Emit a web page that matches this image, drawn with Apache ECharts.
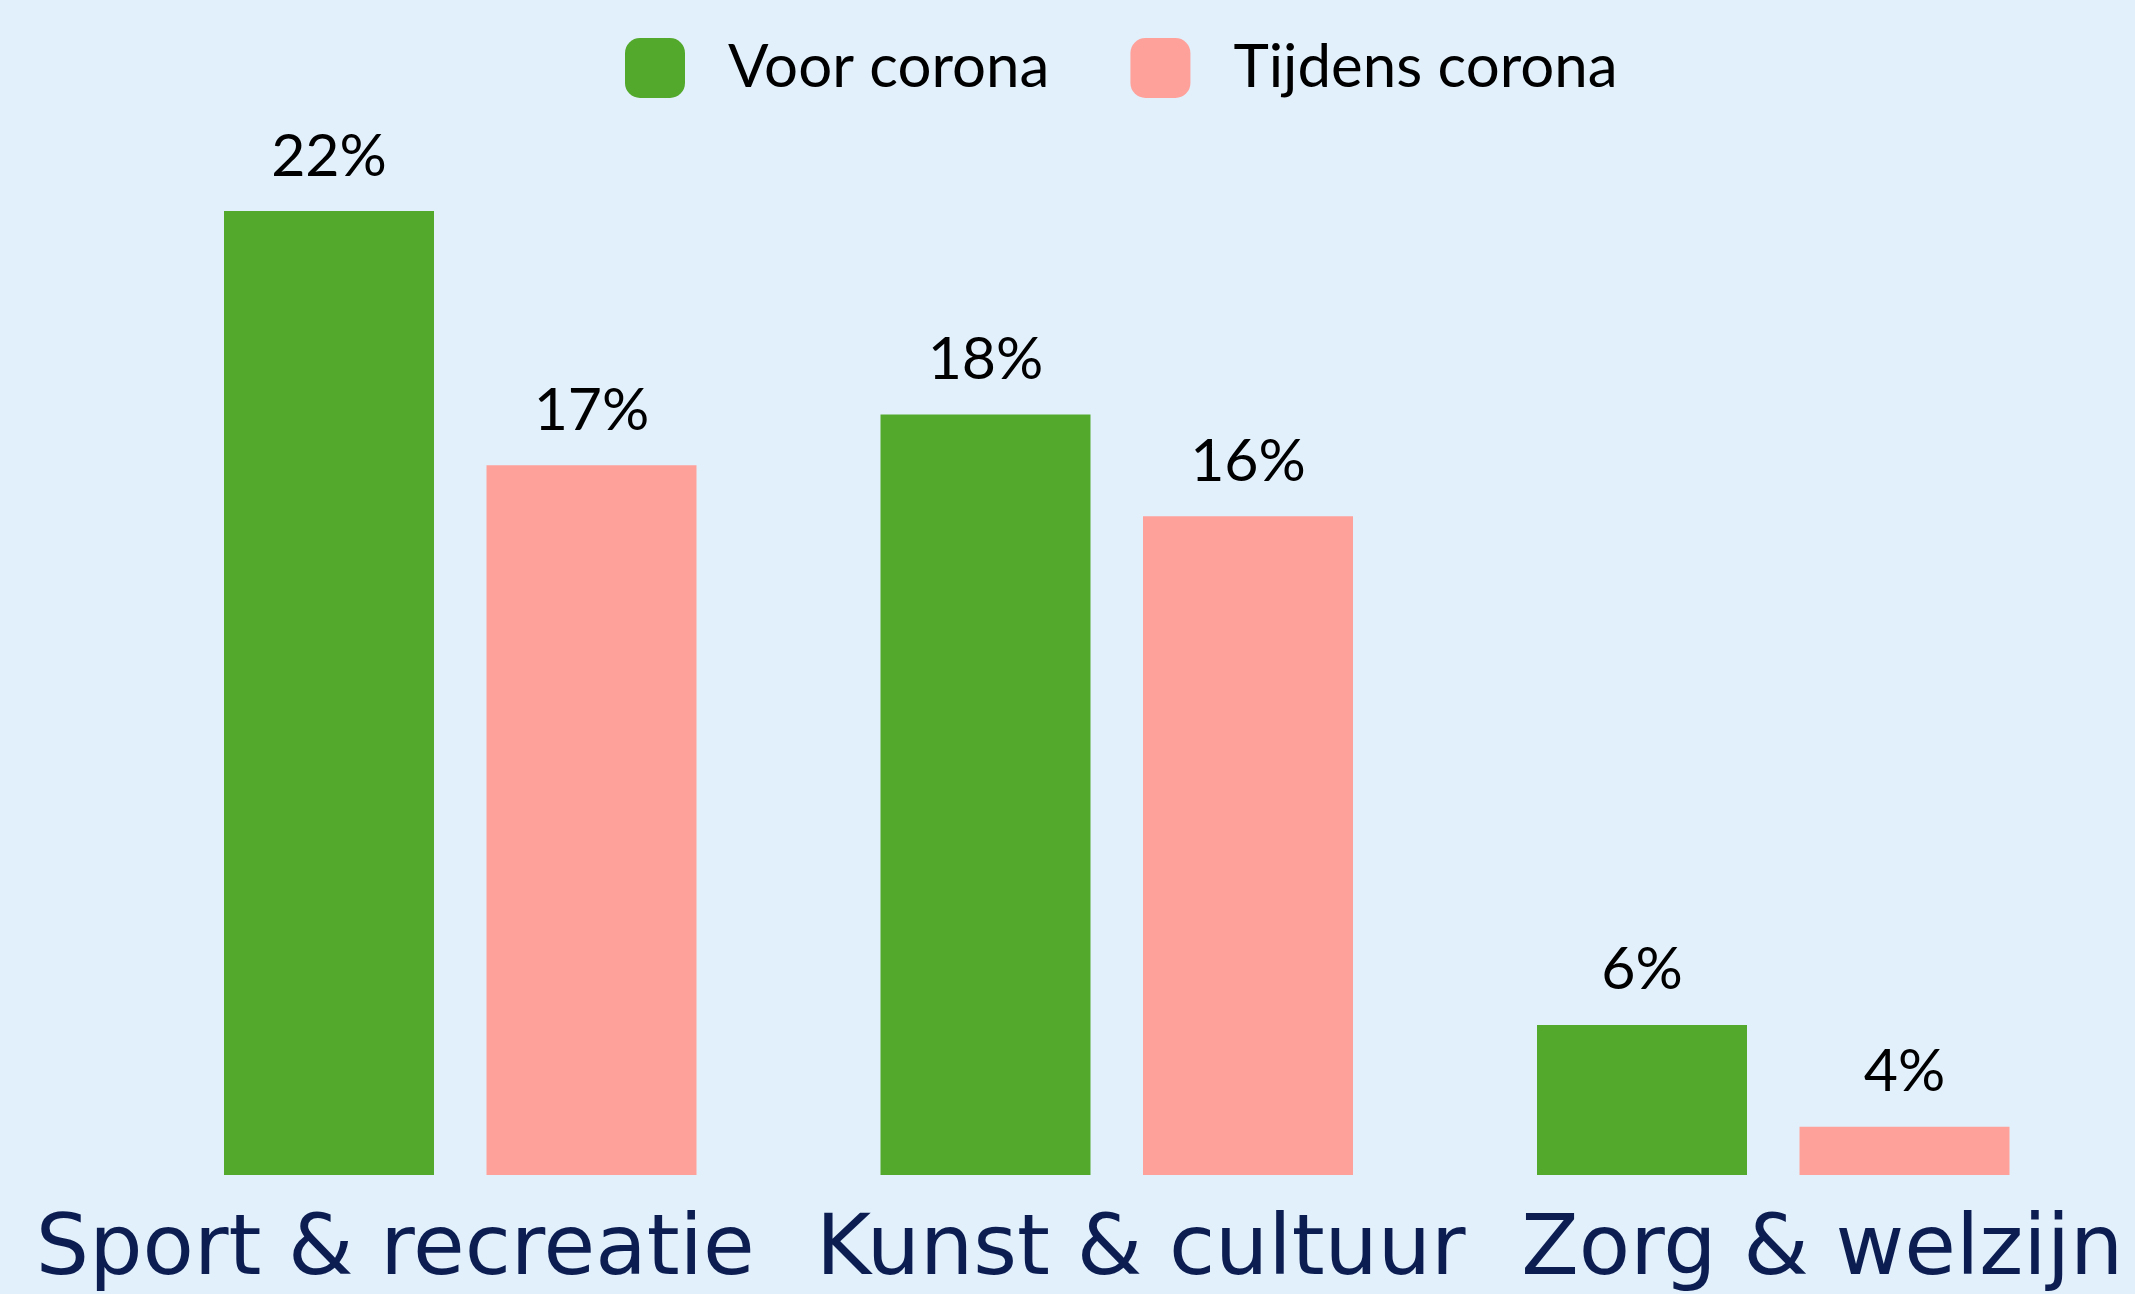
<!DOCTYPE html>
<html>
<head>
<meta charset="utf-8">
<script src="https://cdn.jsdelivr.net/npm/echarts@6/dist/echarts.min.js"></script>
<style>
html,body{margin:0;padding:0;background:#e2f0fb;}
#chart{width:2135px;height:1294px;}
</style>
</head>
<body>
<div id="chart"></div>
<script>
const categories = ['Sport & recreatie', 'Kunst & cultuur', 'Zorg & welzijn'];
const seriesNames = ['Voor corona', 'Tijdens corona'];
const voorCorona = [22, 18, 6];
const tijdensCorona = [17, 16, 4];

// label paddings (styling only): [top, right, bottom, left]
const labelPads = [[0, 130, 0, 0], [0, 0, 0, 48], [0, 0, 0, 98]];

const chart = echarts.init(document.getElementById('chart'));
const labelStyle = {
  show: true,
  position: 'top',
  distance: 25,
  formatter: p => p.value + '%',
  color: '#000',
  fontFamily: 'Lato',
  fontSize: 59
};
chart.setOption({
  backgroundColor: '#e2f0fb',
  animation: false,
  legend: {
    left: 620,
    top: 33,
    itemWidth: 60,
    itemHeight: 60,
    itemGap: 81,
    icon: 'roundRect',
    textStyle: { fontFamily: 'Lato', fontSize: 60, color: '#000', padding: [0, 0, 0, 38] },
    data: seriesNames
  },
  grid: { left: 132, right: 33.5, top: 211, bottom: 117.5 },
  xAxis: {
    type: 'category',
    data: categories.map((c, i) => ({ value: c, textStyle: { padding: labelPads[i] } })),
    axisLine: { show: false },
    axisTick: { show: false },
    axisLabel: {
      interval: 0,
      margin: 35,
      fontFamily: 'DejaVu Sans',
      fontSize: 84,
      color: '#0b1d51'
    }
  },
  yAxis: {
    type: 'value',
    min: 3.05,
    max: 22,
    show: false,
    splitLine: { show: false }
  },
  series: [
    {
      name: seriesNames[0],
      type: 'bar',
      data: voorCorona,
      barWidth: 210,
      barGap: '25%',
      itemStyle: { color: '#53a92c' },
      label: labelStyle
    },
    {
      name: seriesNames[1],
      type: 'bar',
      data: tijdensCorona,
      barWidth: 210,
      barGap: '25%',
      itemStyle: { color: '#ffa19b' },
      label: labelStyle
    }
  ]
});
</script>
</body>
</html>
